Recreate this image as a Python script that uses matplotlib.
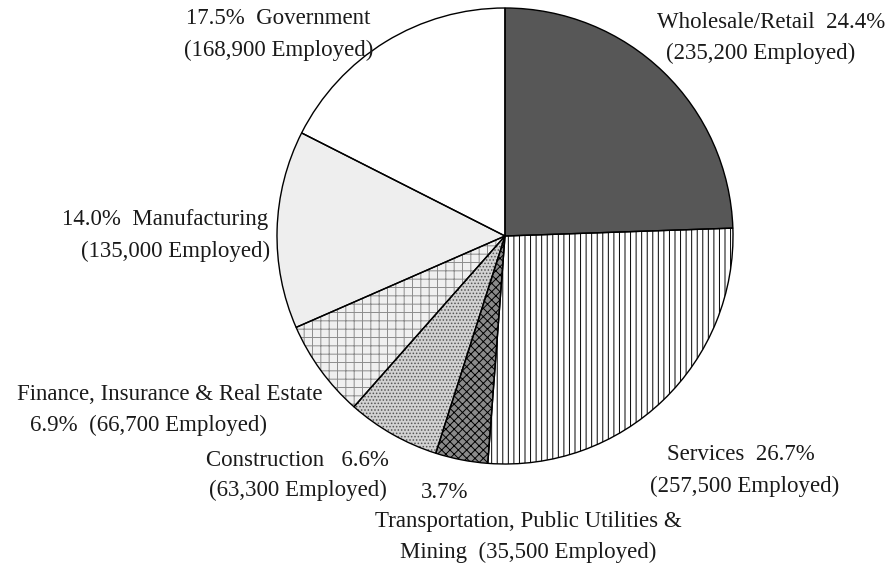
import matplotlib.pyplot as plt

# employment by sector (share of total, number employed)
sectors = ["Wholesale/Retail", "Services", "Transportation, Public Utilities & Mining",
           "Construction", "Finance, Insurance & Real Estate", "Manufacturing", "Government"]
shares = [24.4, 26.7, 3.7, 6.6, 6.9, 14.0, 17.5]
employed = [235200, 257500, 35500, 63300, 66700, 135000, 168900]

fills = ['#575757', 'white', '#8a8a8a', '#d2d2d2', '#f0f0f0', '#eeeeee', 'white']
hatches = [None, '|||', 'xxxx', '.....', '++', None, None]
hatch_cols = ['black', 'black', 'black', '#555555', '#8c8c8c', 'black', 'black']

plt.rcParams['font.family'] = 'Liberation Serif'
plt.rcParams['hatch.linewidth'] = 0.7

fig = plt.figure(figsize=(8.9, 5.67), dpi=100)
ax = fig.add_axes([0, 0, 1, 1])

center, r = (505, 236), 228
# fills and hatches (hatch takes the edge colour), then outlines on top
wedges, _ = ax.pie(shares, center=center, radius=r, startangle=-90, counterclock=True,
                   colors=fills, wedgeprops=dict(linewidth=0))
for w, h, hc in zip(wedges, hatches, hatch_cols):
    if h:
        w.set_hatch(h)
        w.set_edgecolor(hc)
ax.pie(shares, center=center, radius=r, startangle=-90, counterclock=True,
       colors=['none'] * len(shares), wedgeprops=dict(edgecolor='black', linewidth=1.0))

# pixel-like coordinates, y down (set after pie, which resets limits)
ax.set_xlim(0, 890)
ax.set_ylim(567, 0)
ax.set_aspect('equal')
ax.axis('off')

pct = [f"{s:.1f}%" for s in shares]
emp = [f"({n:,} Employed)" for n in employed]
fs = 16.5

def lab(x, y, s):
    ax.text(x, y, s, fontsize=fs, ha='center', va='center', color='#1a1a1a')

lab(278, 18, f"{pct[6]}  {sectors[6]}")
lab(279, 50, emp[6])
lab(771, 22, f"{sectors[0]}  {pct[0]}")
lab(761, 53, emp[0])
lab(165, 219, f"{pct[5]}  {sectors[5]}")
lab(176, 251, emp[5])
lab(170, 394, sectors[4])
lab(149, 425, f"{pct[4]}  {emp[4]}")
lab(297, 460, f"{sectors[3]}   {pct[3]}")
lab(298, 490, emp[3])
lab(445, 492, pct[2])
lab(528, 522, "Transportation, Public Utilities &")
lab(528, 552, f"Mining  {emp[2]}")
lab(741, 455, f"{sectors[1]}  {pct[1]}")
lab(745, 486, emp[1])

fig.savefig('out.png', dpi=100)
